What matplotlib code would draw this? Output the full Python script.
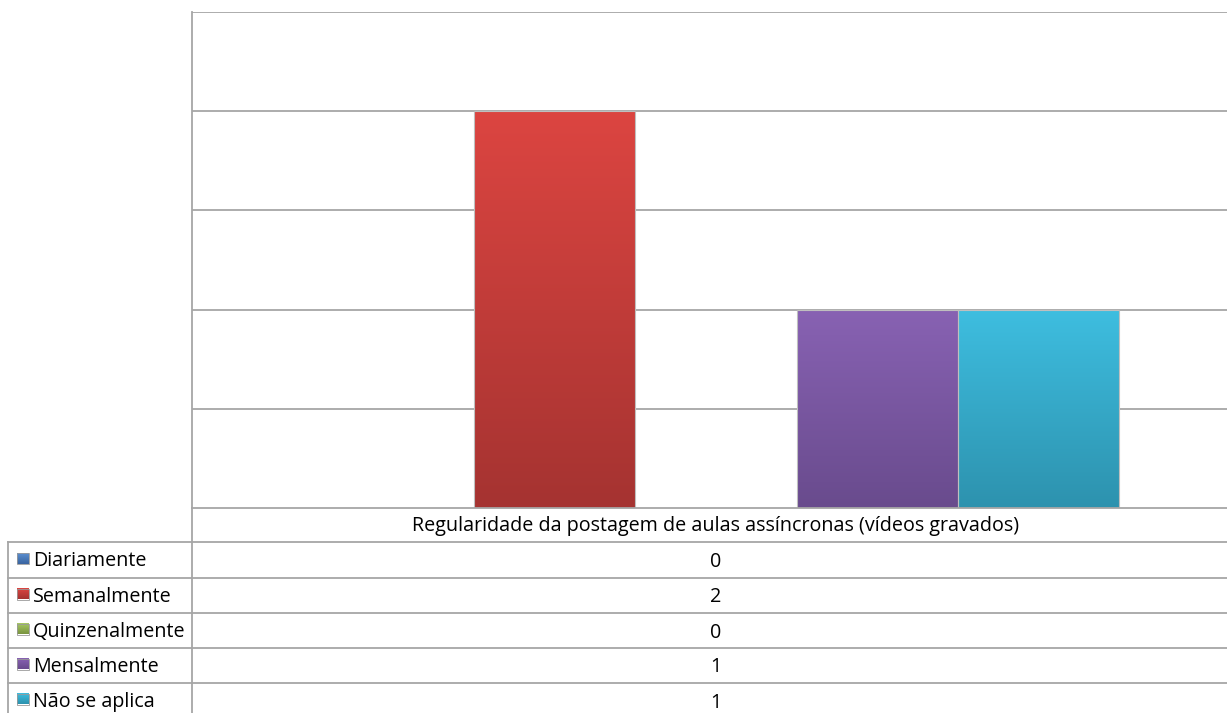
import numpy as np
import matplotlib
matplotlib.use("Agg")
import matplotlib.pyplot as plt
from matplotlib.colors import LinearSegmentedColormap
from matplotlib.patches import Rectangle

plt.rcParams['font.family'] = ['Open Sans', 'DejaVu Sans']

# dados
categoria = "Regularidade da postagem de aulas assíncronas (vídeos gravados)"
series = ["Diariamente", "Semanalmente", "Quinzenalmente", "Mensalmente", "Não se aplica"]
valores = [0, 2, 0, 1, 1]
# cores (topo, base) do degradê
cores_topo = ["#5A8FD0", "#DC4541", "#A8C964", "#8862B3", "#3EBEE0"]
cores_base = ["#3A64A0", "#A53331", "#7A9440", "#694B8D", "#2D92AE"]

W, H = 1227, 713
fig = plt.figure(figsize=(W / 100, H / 100), dpi=100)
cinza = "#A6A6A6"
fs = 14.2


def degrade(ax, patch, c1, c2):
    x0, y0 = patch.get_x(), patch.get_y()
    w, h = patch.get_width(), patch.get_height()
    cmap = LinearSegmentedColormap.from_list("g", [c2, c1])
    grad = np.linspace(0, 1, 256).reshape(-1, 1)
    im = ax.imshow(grad, cmap=cmap, aspect="auto", origin="lower",
                   extent=(x0, x0 + w, y0, y0 + h), zorder=3)
    im.set_clip_path(patch)


# area do grafico (em pixels)
px_l, px_r, px_t, px_b = 192, 1240, 12, 508
ax = fig.add_axes([px_l / W, (H - px_b) / H, (px_r - px_l) / W, (px_b - px_t) / H])
ax.set_xlim(-0.5, 0.5)
ax.set_ylim(0, 2.5)
for y in np.arange(0.5, 2.51, 0.5):
    ax.axhline(y, color=cinza, lw=1.3, zorder=1)
for s in ["top", "right", "bottom"]:
    ax.spines[s].set_visible(False)
ax.spines["left"].set_color(cinza)
ax.spines["left"].set_linewidth(1.3)
ax.set_xticks([])
ax.set_yticks([])

larg = 0.154
n = len(series)
for i, v in enumerate(valores):
    xc = (i - (n - 1) / 2) * larg
    bars = ax.bar(xc, v, width=larg, color="none", edgecolor="#BFBFBF", lw=0.8, zorder=4)
    if v > 0:
        degrade(ax, bars[0], cores_topo[i], cores_base[i])

# tabela de dados
tb = fig.add_axes([0, 0, 1, 1])
tb.set_xlim(0, W)
tb.set_ylim(H, 0)
tb.axis("off")
tb.patch.set_alpha(0)

linhas = [508, 542, 578, 613, 648, 683, 718]
col_esq, col_meio = 8, 192
tb.plot([col_meio, W + 20], [linhas[0]] * 2, color=cinza, lw=1.3)
for y in linhas[1:]:
    tb.plot([col_esq, W + 20], [y, y], color=cinza, lw=1.3)
tb.plot([col_esq, col_esq], [linhas[1], H + 5], color=cinza, lw=1.3)
tb.plot([col_meio, col_meio], [px_b, H + 5], color=cinza, lw=1.3)

xc_tab = (px_l + px_r) / 2
tb.text(xc_tab, (linhas[0] + linhas[1]) / 2 + 1, categoria, ha="center", va="center",
        fontsize=fs, color="#000000")
for i, (nome, v) in enumerate(zip(series, valores)):
    yc = (linhas[i + 1] + linhas[i + 2]) / 2
    cmap = LinearSegmentedColormap.from_list("g", [cores_topo[i], cores_base[i]])
    tb.imshow(np.linspace(0, 1, 32).reshape(-1, 1), cmap=cmap, aspect="auto",
              extent=(17, 29, yc + 4, yc - 7), origin="upper", zorder=3)
    tb.add_patch(Rectangle((17, yc - 7), 12, 11, facecolor="none",
                           edgecolor="#9A9A9A", lw=0.6, zorder=4))
    tb.text(33, yc + 1, nome, ha="left", va="center", fontsize=fs, color="#000000")
    tb.text(xc_tab, yc + 2, str(v), ha="center", va="center", fontsize=fs, color="#000000")
tb.set_xlim(0, W)
tb.set_ylim(H, 0)

fig.savefig("out.png", dpi=100)
